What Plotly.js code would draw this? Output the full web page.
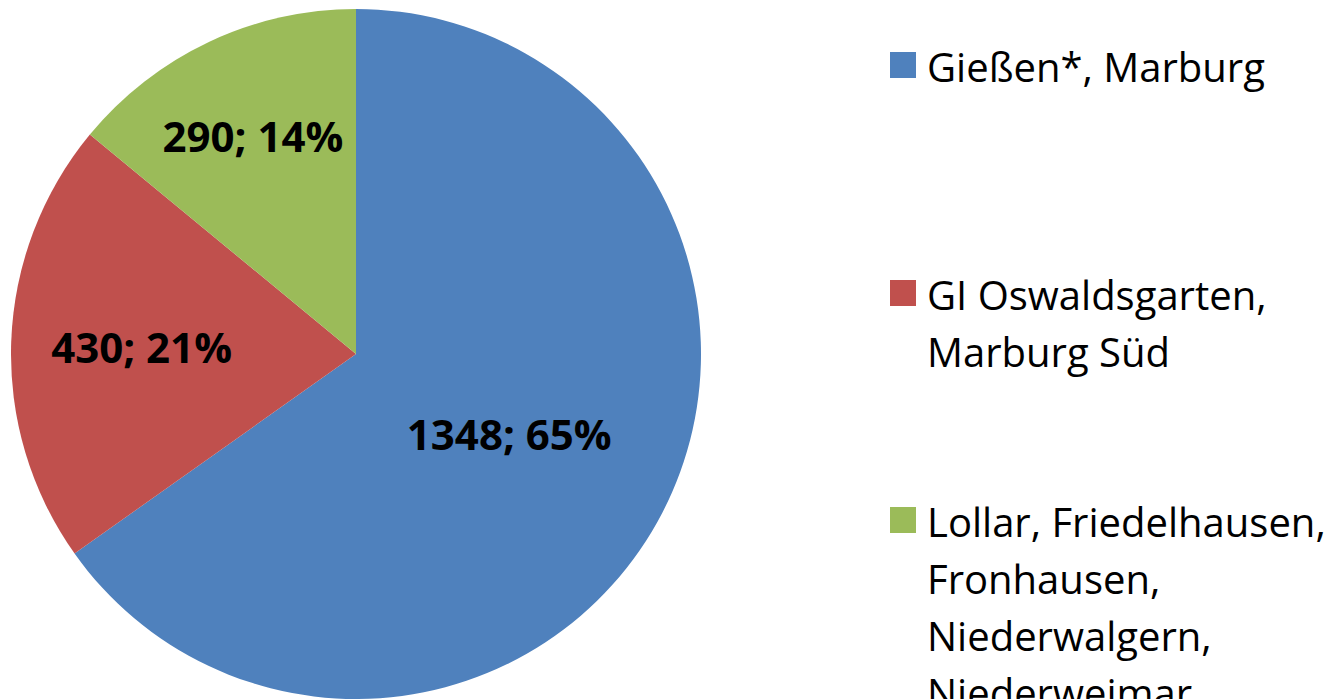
<!DOCTYPE html>
<html>
<head>
<meta charset="utf-8">
<script src="https://cdn.plot.ly/plotly-3.0.1.min.js"></script>
<style>html,body{margin:0;padding:0;background:#fff;}#chart{width:1336px;height:699px;}</style>
</head>
<body>
<div id="chart"></div>
<script>
// ---- data ----
const categories = ["Gießen*, Marburg", "GI Oswaldsgarten, Marburg Süd", "Lollar, Friedelhausen, Fronhausen, Niederwalgern, Niederweimar"];
const values = [1348, 430, 290];
const legendLines = [
  ["Gießen*, Marburg"],
  ["GI Oswaldsgarten,", "Marburg Süd"],
  ["Lollar, Friedelhausen,", "Fronhausen,", "Niederwalgern,", "Niederweimar"]
];
const colors = ["#4F81BD", "#C0504D", "#9BBB59"];

// ---- layout helpers ----
const W = 1336, H = 699;
const px = x => x / W;
const py = y => 1 - y / H;

const trace = {
  type: "pie",
  labels: categories,
  values: values,
  sort: false,
  direction: "clockwise",
  rotation: 0,
  marker: {colors: colors, line: {width: 0}},
  texttemplate: "%{value}; %{percent:.0%}",
  textposition: "inside",
  insidetextorientation: "horizontal",
  textfont: {family: "Open Sans, sans-serif", size: 42, color: "#000", weight: "bold"},
  hoverinfo: "label+value+percent",
  domain: {x: [px(11), px(701)], y: [py(699), py(9)]},
  showlegend: false
};

const shapes = [];
const annotations = [];
const firstBaseline = [78, 306, 533];
const pitch = 57;
const capH = 28;
legendLines.forEach((lines, i) => {
  const base = firstBaseline[i];
  shapes.push({type: "rect", xref: "paper", yref: "paper",
    x0: px(890), x1: px(916), y0: py(base), y1: py(base - 26),
    fillcolor: colors[i], line: {width: 0}});
  lines.forEach((t, j) => {
    const b = base + j * pitch;
    annotations.push({xref: "paper", yref: "paper", x: px(925), y: py(b - capH / 2 + 2),
      xanchor: "left", yanchor: "middle", showarrow: false, text: t,
      font: {family: "Open Sans, sans-serif", size: 40, color: "#000"}});
  });
});

const layout = {
  width: W, height: H,
  margin: {l: 0, r: 0, t: 0, b: 0},
  paper_bgcolor: "#fff",
  showlegend: false,
  shapes: shapes,
  annotations: annotations
};
Plotly.newPlot("chart", [trace], layout, {displayModeBar: false, staticPlot: true});
</script>
</body>
</html>
